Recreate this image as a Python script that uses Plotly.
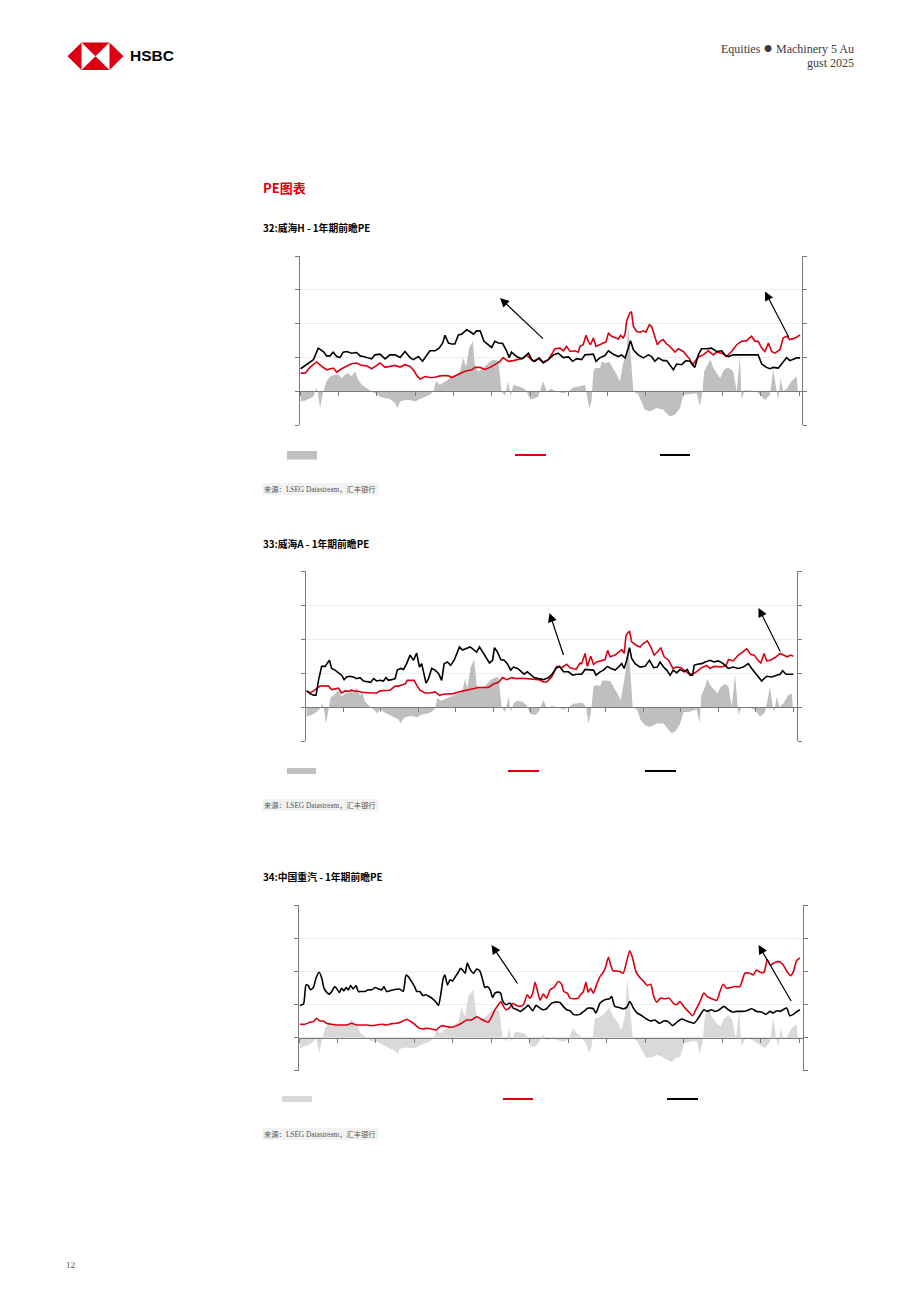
import plotly.graph_objects as go

W, H = 920, 1302

# ---------------- DATA (x = months since series start, y = value) ----------------
# Chart 32: Weichai H
c1_black_m = [0.2,4.2,5.7,7.3,8.3,9.4,10.4,11.5,12.5,13.5,14.6,16.1,17.7,18.8,19.8,21.4,22.4,23.4,25.0,26.6,28.1,29.7,31.3,32.8,34.4,35.4,37.0,38.3,39.6,40.6,42.2,43.5,44.6,45.3,46.4,47.4,48.4,49.5,50.5,52.1,53.1,54.2,55.2,56.3,57.5,58.9,59.9,60.9,62.0,63.3,64.4,65.4,66.1,67.7,69.3,70.3,71.4,72.4,73.4,74.8,76.0,77.6,79.2,80.7,82.3,83.9,85.2,86.5,87.5,
              88.0,89.1,90.6,91.7,92.5,93.8,95.3,96.4,97.9,99.5,100.5,101.6,102.6,103.3,104.2,105.7,107.3,108.9,109.9,110.9,112.0,113.5,114.6,115.6,116.7,117.7,119.3,120.6,121.9,122.7,123.4,124.5,125.5,127.1,128.6,130.2,131.8,132.8,133.9,135.4,137.5,139.6,142.2,143.2,144.3,145.8,146.9,147.9,149.5,150.8,152.1,153.1,154.2,155.2,156.3]
c1_black = [6.7,9.4,12.8,11.8,10.5,10.5,11.6,10.3,10.0,11.6,11.8,11.3,11.5,10.5,10.3,10.0,9.6,10.8,11.0,9.6,10.8,10.8,10.0,11.8,10.0,9.4,10.3,8.9,10.8,12.0,12.0,12.8,14.3,16.6,14.3,14.0,14.0,16.7,16.9,18.2,17.7,16.9,17.9,17.9,14.8,13.8,13.0,14.8,14.3,14.2,12.3,10.0,11.6,10.3,9.6,10.3,11.3,9.4,8.9,9.9,8.4,9.4,10.8,11.3,10.0,10.2,8.9,9.7,9.6,
            9.4,10.8,11.0,11.0,8.9,10.0,10.6,12.0,11.0,10.3,10.8,9.9,12.8,15.0,12.3,10.8,9.9,10.8,10.3,8.9,9.9,9.1,9.1,7.9,6.4,8.1,7.9,9.1,8.9,7.9,7.1,10.8,12.6,12.6,12.8,11.8,12.0,10.8,10.3,10.8,10.8,10.8,10.6,10.8,8.1,7.1,6.7,7.1,6.9,8.4,10.0,9.1,9.4,9.9,9.9]
c1_red_m = [0.2,1.6,3.1,5.2,6.8,8.3,10.4,11.5,13.0,14.6,16.1,17.7,19.3,20.8,22.4,24.0,25.0,26.6,28.1,29.7,31.3,32.8,34.4,35.4,36.5,37.5,39.1,40.6,42.2,43.8,45.3,46.4,47.4,49.0,50.5,52.1,53.6,54.7,56.3,57.8,59.4,60.9,62.5,63.5,65.1,66.7,68.2,69.8,70.8,71.9,72.9,74.5,76.0,77.6,78.6,79.7,81.3,82.3,83.3,84.4,85.9,87.0,87.5,
            88.5,89.4,90.1,90.8,91.7,92.5,93.5,94.8,95.6,96.4,97.4,98.4,99.5,100.2,101.0,101.6,102.1,103.1,103.6,104.2,105.2,106.3,107.3,108.1,109.2,109.9,110.9,111.7,112.5,113.5,114.6,115.6,117.2,118.2,119.8,120.8,121.9,122.7,123.4,124.5,126.0,127.6,129.2,130.2,131.8,133.3,134.9,136.5,138.0,139.6,141.1,142.2,143.2,144.3,145.3,146.4,147.4,148.4,150.0,151.0,152.1,153.1,154.2,155.2,156.3]
c1_red = [5.4,5.4,7.1,8.7,7.4,6.4,6.9,5.7,6.7,7.4,8.2,8.4,7.7,7.6,6.7,7.7,8.4,7.1,7.3,7.7,7.2,7.9,7.4,6.4,4.7,3.7,4.4,4.1,4.2,4.6,4.7,4.6,4.1,4.9,5.5,6.1,6.3,7.1,7.1,6.5,7.1,7.9,8.9,10.0,8.9,9.1,9.4,9.9,10.8,9.9,8.9,9.7,8.7,9.4,10.8,12.6,12.8,12.0,13.3,11.8,12.0,11.6,13.3,
          13.8,16.6,14.8,13.8,15.8,13.3,13.8,14.3,14.6,17.2,16.3,15.8,15.5,16.6,15.8,16.9,20.9,23.2,23.6,19.2,17.7,17.5,17.9,17.5,19.7,19.2,16.3,13.8,14.8,15.3,14.0,13.3,11.6,12.6,11.8,10.8,9.4,7.9,8.9,10.2,10.8,12.0,10.8,11.6,11.3,10.3,11.8,13.8,14.8,15.0,16.3,14.8,14.8,12.8,11.8,14.3,11.8,11.3,12.3,15.8,16.3,15.3,15.6,16.0,16.7]
c1_area_m = [0.2,1.6,3.1,4.2,5.2,5.7,6.3,7.1,8.3,9.4,10.9,12.0,13.0,14.1,15.1,16.1,17.2,18.2,19.3,20.8,22.4,24.0,25.0,26.6,28.1,29.7,30.4,31.3,32.8,34.4,35.9,37.5,39.1,40.6,41.7,42.5,43.8,45.3,46.9,48.4,50.0,51.0,51.9,52.9,54.0,54.7,55.7,57.3,58.9,60.4,62.0,63.0,64.1,65.1,65.8,66.7,68.2,69.8,70.8,71.9,72.9,74.5,76.0,77.1,78.6,80.2,82.3,83.9,85.4,87.5,
             89.1,89.6,90.4,91.1,91.7,92.2,93.8,94.3,95.3,96.7,97.9,99.0,100.0,101.0,102.1,102.6,103.1,104.2,105.7,106.8,107.8,109.4,111.5,113.5,114.6,115.6,117.2,118.8,119.8,121.4,122.9,124.0,125.0,125.8,126.3,127.6,128.3,129.2,130.2,131.3,132.5,133.9,135.4,136.5,137.5,138.0,139.0,141.1,142.7,143.8,145.3,146.9,147.9,148.8,149.5,150.2,151.0,152.1,153.6,155.2,155.7]
c1_area = [-3.0,-2.7,-2.0,-1.5,1.2,-1.0,-4.9,-0.5,3.0,4.4,4.9,5.1,3.9,4.9,5.4,4.4,5.9,3.4,2.0,1.0,0,-0.8,-1.5,-2.0,-2.2,-3.4,-4.9,-3.0,-2.5,-2.5,-3.0,-2.2,-1.5,-1.0,0,3.0,2.0,3.0,3.9,4.4,5.9,9.9,7.4,12.8,14.8,7.4,5.9,6.9,8.4,9.4,8.9,0,-1.2,3.0,-1.5,2.0,1.5,1.0,0,-2.2,-2.2,-1.5,3.0,0,0.8,0,-0.5,0,1.2,1.5,
           2.0,-0.5,-5.1,-3.0,5.9,6.9,6.9,8.9,8.4,8.7,6.9,4.9,3.0,8.4,11.8,18.7,13.8,0,-0.8,-3.0,-5.4,-5.9,-4.9,-5.4,-6.4,-7.4,-6.9,-4.9,-1.0,-0.8,-0.5,-0.5,-4.4,0,5.9,7.9,9.4,6.9,5.4,3.9,6.4,7.1,5.9,0,10.3,-2.2,0.4,0.2,0,-1.0,-2.5,-1.0,6.4,1.0,-2.5,3.9,0,0.8,3.0,4.4,-1.0]

# Chart 33: Weichai A
c2_black_m = [0.3,1.4,2.5,3.3,4.1,5.1,6.2,6.9,7.6,8.3,9.4,10.5,11.5,12.3,13.1,14.2,15.3,16.3,17.4,18.5,19.7,20.8,21.7,22.7,23.8,24.9,25.7,26.5,27.5,28.6,29.3,30.4,31.3,32.3,33.4,34.5,35.5,36.4,37.1,37.9,38.5,39.3,40.3,41.4,42.5,43.5,44.3,45.3,46.4,47.5,48.3,49.2,50.2,51.5,52.6,53.7,54.7,55.6,56.9,57.9,58.8,59.8,60.4,61.3,62.4,63.5,64.5,65.6,66.5,67.8,68.8,69.9,70.9,72.0,73.1,74.5,76.1,77.7,79.0,80.1,81.2,82.5,84.1,85.4,86.7,87.8,
              88.3,89.4,91.0,92.1,92.9,94.2,95.3,96.5,97.7,99.0,100.1,101.1,101.9,102.7,103.6,104.3,105.4,107.0,108.6,110.0,111.3,112.5,113.4,114.5,115.5,116.6,117.6,118.7,119.8,121.1,122.1,123.0,123.8,124.3,125.3,126.7,127.8,129.4,130.6,132.0,133.6,135.2,136.8,138.4,140.0,141.6,142.7,144.3,145.9,147.5,149.1,150.7,151.8,152.6,153.7,155.0,156.0]
c2_black = [4.8,4.0,3.5,3.5,7.9,12.0,12.0,12.8,13.8,11.4,10.9,10.1,9.4,8.1,8.9,9.1,8.9,8.4,8.7,7.7,7.6,7.3,8.4,7.7,7.9,7.7,8.7,7.9,8.1,8.4,10.9,11.4,11.1,12.8,15.3,13.8,15.9,11.8,12.8,9.9,7.1,8.4,11.4,10.9,9.9,7.9,12.8,13.3,12.3,13.8,15.8,17.7,16.8,17.2,17.7,16.9,16.2,17.7,15.8,14.3,13.0,13.8,17.5,16.3,14.0,13.8,12.8,10.9,11.8,11.4,10.7,9.7,10.4,9.4,8.7,8.4,8.1,8.7,9.9,11.4,12.0,10.4,10.4,9.4,9.7,9.7,
            9.7,11.1,11.1,10.9,9.4,10.4,10.9,12.0,11.4,10.9,11.8,12.8,11.4,13.8,17.5,14.3,12.8,11.8,12.0,13.8,11.6,11.8,13.3,11.8,10.9,9.4,10.9,10.1,11.1,10.4,11.1,9.4,9.4,12.3,12.6,12.8,13.3,13.8,13.3,13.6,12.8,11.4,11.8,11.4,11.8,12.8,11.4,9.4,7.7,9.1,8.9,9.4,9.7,10.7,9.7,9.7,9.7]
c2_red_m = [0.3,1.4,2.5,3.5,4.6,6.2,7.3,8.3,9.4,10.5,11.5,12.6,13.7,14.7,15.8,16.9,17.9,19.5,21.1,22.7,23.8,25.4,27.0,28.6,29.7,30.7,31.8,32.5,33.6,34.7,35.5,36.6,38.2,39.8,41.4,42.8,44.1,45.7,47.3,48.9,50.5,52.1,53.7,55.3,56.9,58.5,60.1,61.7,63.0,64.3,65.9,67.5,69.1,70.7,72.9,74.5,76.1,77.1,78.7,80.3,81.9,83.5,84.6,86.5,87.8,
            88.3,89.4,90.1,91.2,92.1,93.1,94.7,95.8,96.6,97.4,99.0,100.1,101.1,101.9,102.5,103.6,104.3,105.7,107.0,108.0,109.3,110.4,111.5,112.5,113.6,114.7,116.1,117.5,118.7,120.1,121.1,122.5,123.5,124.6,125.7,126.7,128.3,129.4,130.6,132.0,133.1,134.5,135.3,136.8,138.4,139.8,141.1,142.4,143.5,144.5,145.6,146.7,147.5,148.6,150.2,151.8,153.1,154.1,155.2,156.0]
c2_red = [4.8,4.2,4.8,5.5,6.2,6.3,6.2,5.2,5.5,5.6,4.2,4.8,4.7,5.0,4.7,4.7,4.4,4.2,4.2,4.2,4.8,4.9,5.0,6.2,6.2,6.5,6.8,7.9,7.9,7.9,6.5,5.0,4.2,4.2,4.5,3.5,3.8,4.0,4.0,4.5,4.8,5.2,5.5,5.8,5.8,5.8,6.8,7.3,8.7,8.1,8.7,8.4,8.5,8.4,8.4,8.1,7.4,7.4,8.9,12.0,11.6,12.6,11.6,11.1,13.0,
          12.8,15.8,12.0,15.0,12.6,13.3,13.6,14.0,16.7,14.8,15.3,16.2,16.9,15.8,21.1,22.4,19.2,18.2,17.7,18.7,19.5,17.7,15.3,16.2,17.5,14.8,13.8,11.4,11.8,11.6,10.9,9.9,9.7,10.1,10.9,11.6,12.3,11.4,12.0,12.0,11.8,12.3,14.0,13.6,15.3,16.2,17.2,15.5,15.3,14.0,13.0,15.8,13.6,13.8,14.6,15.8,15.3,14.8,15.3,15.0]
c2_area_m = [0.3,1.9,3.5,4.6,5.4,6.0,6.5,7.3,8.0,9.1,9.9,10.8,11.5,12.6,13.7,14.4,15.3,16.3,17.4,18.2,19.0,20.1,21.1,22.2,22.9,23.8,24.9,26.5,28.1,29.7,30.4,31.3,32.3,33.9,35.5,37.1,38.7,40.3,41.4,42.1,43.2,44.6,45.7,47.3,48.9,50.2,51.0,51.7,52.8,53.9,54.7,55.8,57.4,59.0,60.6,61.7,62.7,63.8,64.9,65.6,66.5,67.7,69.4,70.7,71.8,73.4,74.5,76.1,77.1,78.7,80.3,82.5,84.1,85.7,87.8,
             88.6,89.7,90.5,91.2,92.1,92.9,94.2,95.0,96.3,97.4,98.5,99.8,100.8,101.7,102.5,103.1,103.8,104.6,106.1,107.2,108.6,110.2,112.3,114.5,116.1,117.1,118.5,119.8,120.9,122.5,124.1,125.1,126.0,126.6,127.8,128.5,129.4,130.6,131.7,132.8,134.2,135.3,136.3,137.4,138.4,139.5,141.1,142.7,143.8,145.4,147.0,148.6,149.4,149.9,150.7,151.6,152.8,154.4,155.5,156.0]
c2_area = [-2.8,-2.3,-1.4,-0.4,1.1,-1.4,-4.8,-0.9,3.0,3.5,4.5,5.0,3.0,4.0,4.2,5.2,4.2,5.8,3.5,4.2,1.6,0.6,-0.1,-1.1,-1.9,-0.4,-1.4,-2.1,-2.8,-3.6,-4.8,-3.3,-2.8,-2.6,-3.0,-2.1,-1.9,-1.4,-0.4,2.8,1.9,2.4,2.7,3.5,4.0,5.0,8.4,5.5,11.8,14.0,6.5,5.5,6.2,7.9,8.7,8.8,0.1,-1.4,3.0,-1.4,1.1,1.9,1.6,0.6,-1.9,-2.3,-1.4,2.1,-0.4,0.4,0.1,-0.7,0,1.0,1.3,
           1.3,0.1,-4.8,-1.9,6.0,6.5,6.2,7.9,7.9,7.7,6.0,4.0,2.1,6.9,11.4,17.7,11.8,0.1,-0.9,-3.8,-5.3,-5.8,-4.8,-4.8,-6.8,-7.7,-6.8,-4.8,-1.4,-1.4,-0.9,-0.7,-4.7,3.5,6.0,8.4,6.5,5.2,4.0,6.0,6.8,6.0,0.3,9.4,-2.1,0.1,0.1,-0.4,-0.9,-2.8,-1.4,6.0,0.1,-1.4,3.0,0.1,1.1,3.5,4.0,-1.1]

# Chart 34: Sinotruk
c3_black_m = [0.3,1.4,2.2,2.9,3.6,4.5,5.3,6.3,7.1,7.8,8.6,9.5,10.2,11.2,12.0,12.6,13.3,14.0,14.7,15.4,16.1,16.9,17.8,18.5,19.5,20.6,21.6,22.7,23.7,24.7,25.8,26.5,27.3,28.4,29.4,30.5,31.5,32.5,33.4,34.1,35.1,36.2,36.7,37.7,38.6,39.6,40.6,41.7,42.7,43.5,44.2,45.0,45.5,46.3,47.1,47.9,49.0,49.7,50.4,51.0,51.8,52.5,53.3,54.4,55.4,56.4,57.3,58.0,58.7,59.6,60.4,61.1,62.2,62.9,63.5,64.6,65.8,66.8,68.1,69.1,70.5,71.5,72.9,73.9,74.9,76.0,77.2,78.8,80.1,81.4,82.4,83.5,84.5,85.6,86.6,87.6,
              88.7,90.2,91.8,92.6,93.9,95.4,96.8,97.5,98.5,99.9,101.1,102.2,103.2,104.3,105.5,106.9,108.4,109.7,111.0,112.4,113.8,115.2,116.5,117.8,119.3,120.9,122.1,123.2,124.5,126.3,127.3,128.7,129.7,131.1,132.5,133.9,135.2,136.5,138.0,139.6,141.2,142.7,144.3,145.6,146.9,147.9,149.0,150.0,151.0,152.1,153.1,154.2,155.4,156.2]
c3_black = [9.7,10.1,15.9,15.7,14.4,15.1,17.9,19.7,17.9,14.9,13.7,13.1,13.9,15.4,14.4,13.6,14.9,14.1,15.1,14.4,15.7,14.7,15.7,13.9,13.9,13.9,14.4,14.4,15.1,14.7,14.4,15.4,13.9,14.1,14.4,14.6,14.6,13.9,18.9,18.4,16.9,15.1,13.9,13.9,12.7,12.9,12.4,11.7,10.7,9.7,12.9,17.9,18.9,15.9,17.4,17.1,18.7,19.7,20.9,20.4,19.4,22.5,20.7,19.4,20.7,20.1,17.4,15.1,15.4,14.4,12.1,13.4,13.7,13.4,11.1,9.9,10.4,8.9,8.4,7.9,8.9,9.7,8.1,9.7,9.1,8.4,8.7,10.4,10.7,10.6,9.4,8.4,8.1,7.0,6.8,7.0,
            7.8,8.9,8.7,7.4,10.4,11.4,11.7,12.4,9.4,9.1,8.7,9.1,10.9,8.9,7.4,6.6,5.6,5.0,5.3,4.3,5.0,4.8,3.6,4.6,5.6,5.0,4.6,4.3,5.8,8.4,7.9,8.4,7.9,8.4,9.4,8.4,7.7,7.9,7.9,8.1,8.7,7.9,7.7,7.0,7.9,7.4,8.1,7.9,8.4,8.9,6.6,7.0,7.9,8.4]
c3_red_m = [0.3,1.9,3.4,4.5,5.5,6.5,7.6,8.6,10.2,11.7,13.3,14.9,16.4,18.0,19.5,21.1,22.7,24.2,25.8,27.3,28.9,30.5,32.0,33.6,34.6,35.7,37.2,38.6,39.8,41.4,42.7,44.0,45.0,46.0,47.6,49.2,50.7,52.3,53.8,55.4,56.4,58.0,59.0,60.1,61.1,62.2,62.9,63.5,64.6,65.8,66.6,67.9,68.9,70.0,71.2,72.0,72.9,73.6,74.3,75.2,76.2,77.2,78.3,79.5,80.9,81.9,82.6,83.7,84.5,86.1,87.1,87.6,
            88.7,89.5,90.2,90.95,91.8,92.8,93.9,94.9,95.7,96.5,97.2,98.0,99.1,100.1,101.1,102.2,103.2,104.1,105.1,106.3,107.4,108.6,109.7,110.5,111.5,112.8,114.1,115.5,116.7,117.8,118.8,120.0,121.4,122.8,123.8,125.0,126.3,127.3,128.7,130.3,131.3,132.3,133.4,134.6,136.0,137.5,139.1,140.6,141.7,142.7,143.8,145.0,146.1,147.1,148.1,149.5,150.8,152.1,153.3,154.2,155.2,156.2]
c3_red = [4.0,4.0,4.6,4.8,5.8,5.0,5.0,4.3,4.0,3.8,3.8,3.8,4.3,3.8,3.8,3.8,3.6,3.8,4.0,3.8,4.2,4.3,4.8,5.5,5.0,4.3,3.0,2.6,2.8,2.6,2.3,3.3,3.6,3.3,3.1,3.6,4.3,5.3,5.3,6.3,5.8,5.0,4.6,6.3,8.4,9.9,10.9,9.9,8.4,9.1,10.3,9.7,9.4,9.9,12.9,11.9,13.4,16.7,14.4,11.3,13.1,11.9,14.4,15.1,16.9,16.1,13.9,13.4,11.9,11.7,11.9,12.7,
          13.9,16.7,13.7,14.9,13.4,15.9,18.4,19.7,21.5,24.2,22.0,20.1,20.1,19.9,19.4,23.0,26.2,23.8,19.9,18.1,17.1,15.7,16.1,12.9,10.7,11.9,11.7,11.9,10.4,9.9,10.9,9.4,7.9,6.6,8.4,10.7,13.4,12.4,11.7,11.2,13.9,16.1,14.9,15.1,15.4,15.4,19.4,19.4,18.9,20.4,19.7,19.7,23.5,21.8,22.5,23.0,22.2,20.1,18.7,19.9,23.2,24.0]
c3_area_m = [0.3,1.9,3.4,4.5,5.3,5.7,6.3,7.1,8.1,9.1,10.2,11.2,12.3,13.3,14.3,15.4,16.4,17.5,18.2,19.2,20.3,21.3,22.3,23.2,24.2,25.8,27.3,28.9,30.2,30.7,31.5,33.1,34.6,36.2,37.7,39.3,40.9,42.1,42.9,44.0,45.2,46.6,48.1,49.7,50.7,51.8,52.8,54.4,55.2,56.4,58.0,59.6,61.1,62.5,63.5,64.6,65.6,66.3,67.4,68.9,70.5,71.5,72.2,73.6,74.6,76.2,77.2,78.8,80.4,82.4,84.0,85.6,86.6,87.6,
             88.2,89.5,90.5,91.3,92.3,93.9,95.4,96.8,98.0,99.3,100.6,101.7,102.4,103.2,104.1,105.5,106.9,108.2,110.0,111.5,113.1,114.7,116.2,117.6,119.0,120.1,121.4,123.0,124.2,125.0,125.9,126.6,128.0,129.0,130.3,131.5,132.5,133.9,135.2,136.3,137.3,138.0,139.1,140.6,142.2,143.8,145.3,146.9,147.9,148.8,149.5,150.2,151.0,152.3,153.6,155.2,155.7]
c3_area = [-3.2,-2.7,-2.0,-1.2,0,-1.7,-4.7,-1.2,2.8,4.0,3.8,4.3,4.0,3.8,4.0,3.8,5.6,3.3,3.8,1.3,0.6,-0.2,-1.0,-1.2,-1.2,-2.0,-2.7,-3.4,-4.2,-5.0,-3.4,-3.0,-3.0,-3.2,-2.4,-1.7,-1.2,0,2.3,1.3,2.3,2.8,3.6,4.6,9.1,6.3,12.4,14.4,7.4,5.3,6.0,7.7,8.4,7.9,0,-1.2,3.0,-1.2,1.8,1.6,1.0,0,-2.7,-2.7,-1.7,1.0,-0.7,-0.2,-0.7,-1.2,-0.4,2.8,1.3,0.6,
           -0.2,-1.7,-4.7,-2.7,5.8,6.3,7.4,9.1,6.3,4.8,2.3,6.8,17.9,9.9,-0.2,-1.2,-3.7,-6.0,-6.0,-5.2,-5.7,-6.8,-7.3,-6.2,-5.7,-1.7,-1.4,-1.0,-1.2,-5.0,-1.2,6.8,8.4,5.8,4.3,3.3,5.6,6.8,5.3,-0.4,8.4,-2.7,-0.2,-0.4,-1.2,-2.2,-3.2,-1.2,6.0,0,-2.7,2.8,-0.2,0.3,2.8,4.0,-1.2]

page_title = "PE图表"
chart_titles = ["32:威海H - 1年期前瞻PE", "33:威海A - 1年期前瞻PE", "34:中国重汽 - 1年期前瞻PE"]
source_text = "来源：LSEG Datastream，汇丰银行"

# ---------------- STYLE ----------------
RED = "#db0011"
BLACK = "#000000"
AXIS = "#7a7a7a"
GRID = "#ececec"
CJK = "Noto Sans CJK SC"
SERIF = "Liberation Serif, Noto Sans CJK SC"


def px(x):
    return x / W


def py(y):
    return 1 - y / H


charts = [
    dict(x0=300, x1=802, top=256, bottom=425.3, xend=156.9, area_color="#bfbfbf", shape="linear",
         area=(c1_area_m, c1_area), red=(c1_red_m, c1_red), black=(c1_black_m, c1_black)),
    dict(x0=305.7, x1=797, top=571, bottom=741.3, xend=157.2, area_color="#bfbfbf", shape="linear",
         area=(c2_area_m, c2_area), red=(c2_red_m, c2_red), black=(c2_black_m, c2_black)),
    dict(x0=299, x1=803, top=905, bottom=1070.7, xend=157.2, area_color="#d9d9d9", shape="spline",
         area=(c3_area_m, c3_area), red=(c3_red_m, c3_red), black=(c3_black_m, c3_black)),
]

fig = go.Figure()
layout_axes = {}
for i, c in enumerate(charts, start=1):
    xa = "xaxis" if i == 1 else f"xaxis{i}"
    ya = "yaxis" if i == 1 else f"yaxis{i}"
    xr = "x" if i == 1 else f"x{i}"
    yr = "y" if i == 1 else f"y{i}"
    zero = c["bottom"] - (c["bottom"] - c["top"]) * 10 / 50
    layout_axes[xa] = dict(domain=[px(c["x0"]), px(c["x1"])], range=[0, c["xend"]], anchor="free",
                           position=py(zero), showline=True, linecolor=AXIS, linewidth=1,
                           ticks="outside", ticklen=4, tickcolor=AXIS, tickwidth=1, tick0=0, dtick=12,
                           showticklabels=False, showgrid=False, zeroline=False)
    layout_axes[ya] = dict(domain=[py(c["bottom"]), py(c["top"])], range=[-10, 40], anchor=xr,
                           showline=True, mirror="ticks", linecolor=AXIS, linewidth=1,
                           ticks="outside", ticklen=4, tickcolor=AXIS, tickwidth=1, tick0=0, dtick=10,
                           showticklabels=False, showgrid=True, gridcolor=GRID, gridwidth=1, zeroline=False)
    am, av = c["area"]
    fig.add_trace(go.Scatter(x=am, y=av, mode="lines", fill="tozeroy", fillcolor=c["area_color"],
                             line=dict(width=0, color=c["area_color"]), xaxis=xr, yaxis=yr,
                             showlegend=False, hoverinfo="skip"))
    rm, rv = c["red"]
    fig.add_trace(go.Scatter(x=rm, y=rv, mode="lines", line=dict(color=RED, width=1.6, shape=c["shape"], smoothing=0.6),
                             xaxis=xr, yaxis=yr, showlegend=False))
    bm, bv = c["black"]
    fig.add_trace(go.Scatter(x=bm, y=bv, mode="lines", line=dict(color=BLACK, width=1.6, shape=c["shape"], smoothing=0.6),
                             xaxis=xr, yaxis=yr, showlegend=False))

shapes = []
annotations = []


def poly(points, color):
    d = "M " + " L ".join(f"{px(x):.5f},{py(y):.5f}" for x, y in points) + " Z"
    shapes.append(dict(type="path", xref="paper", yref="paper", path=d, fillcolor=color, line=dict(width=0)))


def rect(x0, y0, x1, y1, color):
    shapes.append(dict(type="rect", xref="paper", yref="paper", x0=px(x0), x1=px(x1), y0=py(y1), y1=py(y0),
                       fillcolor=color, line=dict(width=0), layer="below"))


def hline(x0, x1, y, color, width=2):
    shapes.append(dict(type="line", xref="paper", yref="paper", x0=px(x0), x1=px(x1), y0=py(y), y1=py(y),
                       line=dict(color=color, width=width)))


def text(x, y, s, size, family, color="#000000", anchor="left"):
    annotations.append(dict(x=px(x), y=py(y), xref="paper", yref="paper", text=s, showarrow=False,
                            xanchor=anchor, yanchor="middle", borderpad=0, borderwidth=0,
                            font=dict(size=size, family=family, color=color)))


def arrow(hx, hy, tx, ty):
    annotations.append(dict(x=px(hx), y=py(hy), xref="paper", yref="paper", text="", showarrow=True,
                            ax=tx - hx, ay=ty - hy, arrowhead=2, arrowsize=1.5, arrowwidth=1.2,
                            arrowcolor="#000000", standoff=0))


# HSBC logo
poly([(67.5, 56.25), (81.5, 42.5), (81.5, 70)], RED)
poly([(123.5, 56.25), (109.5, 42.5), (109.5, 70)], RED)
poly([(81.5, 42.5), (109.5, 42.5), (95.5, 56.25)], RED)
poly([(81.5, 70), (109.5, 70), (95.5, 56.25)], RED)
text(129.5, 56, "<b>HSBC</b>", 15.5, "Liberation Sans, Arial", "#000000")

# header right
text(854, 48, "Equities <span style='font-size:16px'>●</span> Machinery 5 Au", 12, SERIF, "#3a3a3a", anchor="right")
text(854, 63, "gust 2025", 12, SERIF, "#3a3a3a", anchor="right")

# section title
text(263, 187, f"<b>{page_title}</b>", 13, CJK, RED)

# chart titles
for y, t in zip([228, 544, 877], chart_titles):
    text(263, y, f"<b>{t}</b>", 9.8, CJK, "#000000")

# legend keys
rect(287, 451, 317, 459.5, "#bfbfbf")
hline(515, 546, 455, RED)
hline(660, 690, 455, BLACK)
rect(287, 768, 316, 774, "#bfbfbf")
hline(508, 539, 771, RED)
hline(645, 676, 771, BLACK)
rect(282, 1096, 312, 1102, "#d9d9d9")
hline(503, 533, 1099, RED)
hline(667, 698, 1099, BLACK)

# source boxes
for yc in [489, 805, 1134]:
    rect(262.5, yc - 6, 378.5, yc + 6, "#f2f2f2")
    text(263.5, yc, source_text, 7.3, SERIF, "#555555")

# arrows
arrow(500, 298, 544.5, 340)
arrow(765, 291.5, 789.5, 338.5)
arrow(549.5, 613, 564, 656.5)
arrow(758.5, 608, 781, 653)
arrow(491.5, 945, 518.5, 985)
arrow(758.5, 945, 792, 1002.5)

# page number
text(70, 1265, "12", 9, SERIF, "#555555", anchor="center")

fig.update_layout(width=W, height=H, margin=dict(l=0, r=0, t=0, b=0, pad=0), autosize=False,
                  paper_bgcolor="white", plot_bgcolor="white", showlegend=False,
                  shapes=shapes, annotations=annotations, **layout_axes)

fig.write_html("out.html")
